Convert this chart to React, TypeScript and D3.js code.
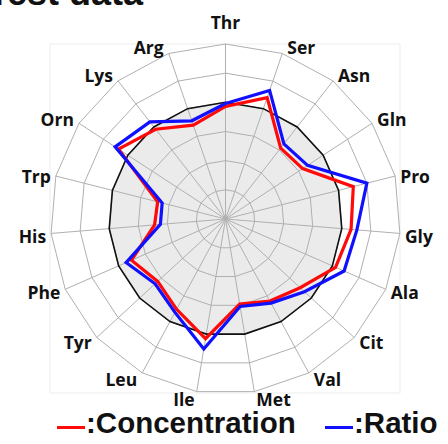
import React from "react";
import * as d3 from "d3";

const categories = ["Thr", "Ser", "Asn", "Gln", "Pro", "Gly", "Ala", "Cit", "Val", "Met", "Ile", "Leu", "Tyr", "Phe", "His", "Trp", "Orn", "Lys", "Arg"];
const concentration = [0.965, 1.1, 0.77, 0.79, 1.13, 1.08, 1.03, 0.87, 0.8, 0.74, 1.04, 0.88, 0.79, 0.88, 0.61, 0.6, 1.095, 0.975, 0.85];
const ratio = [0.99, 1.165, 0.815, 0.84, 1.25, 1.13, 1.11, 0.92, 0.82, 0.76, 1.13, 0.91, 0.82, 0.93, 0.56, 0.56, 1.13, 1.055, 0.89];
const reference = categories.map(() => 1.0);
const gridTicks = [0.25, 0.5, 0.75, 1.0, 1.25, 1.5];
const legendLabels = [":Concentration", ":Ratio"];
const titleText = "Test data";

const W = 448, H = 444;
const cx = 225.5, cy = 219;
const R = 175;

export default function App() {
  const n = categories.length;
  const r = d3.scaleLinear().domain([0, 1.5]).range([0, R]);
  const angle = (i: number) => (i * 2 * Math.PI) / n;
  const radial = d3
    .lineRadial<number>()
    .angle((_, i) => angle(i))
    .radius((v) => r(v))
    .curve(d3.curveLinearClosed);

  const ringPath = (v: number) => radial(categories.map(() => v)) as string;

  return (
    <svg width={W} height={H} style={{ position: "absolute", left: 0, top: 0, background: "#fff" }}
      fontFamily="'Open Sans', sans-serif">
      <text x={143} y={5} textAnchor="end" fontFamily="'Liberation Sans', Arial, sans-serif" fontWeight="bold" fontSize={36} fill="#111">{titleText}</text>
      <rect x={50} y={44} width={350} height={349} fill="none" stroke="#ededed" strokeWidth={1} />
      <g transform={`translate(${cx},${cy})`}>
        <path d={radial(reference) as string} fill="#ebebeb" stroke="none" />
        {gridTicks.map((t) => (
          <path key={t} d={ringPath(t)} fill="none" stroke="#b0b0b0" strokeWidth={1} />
        ))}
        {categories.map((c, i) => {
          const a = angle(i);
          return (
            <line key={c} x1={0} y1={0} x2={R * Math.sin(a)} y2={-R * Math.cos(a)} stroke="#b0b0b0" strokeWidth={1} />
          );
        })}
        <path d={radial(reference) as string} fill="none" stroke="#111" strokeWidth={1.6} />
        <path d={radial(concentration) as string} fill="none" stroke="#ff0a0a" strokeWidth={3.2} strokeLinejoin="miter" />
        <path d={radial(ratio) as string} fill="none" stroke="#1010ff" strokeWidth={3.2} strokeLinejoin="miter" />
        {categories.map((c, i) => {
          const a = angle(i);
          const s = Math.sin(a), co = Math.cos(a);
          const ex = R * s, ey = -R * co;
          let anchor: "start" | "middle" | "end" = "middle";
          let x = ex, y = ey;
          if (Math.abs(s) < 0.05) {
            y = ey - 22;
          } else {
            anchor = s > 0 ? "start" : "end";
            x = ex + (Math.abs(s) < 0.3 ? 2 : 5) * Math.sign(s);
            y = ey - 7 * co + (Math.abs(co) < 0.3 ? 2 : 0);
          }
          return (
            <text key={c} x={x} y={y} textAnchor={anchor} dominantBaseline="central" fontSize={17.5} fontWeight="bold" fill="#111">
              {c}
            </text>
          );
        })}
      </g>
      <g>
        <line x1={57} x2={85} y1={427.5} y2={427.5} stroke="#ff0a0a" strokeWidth={3} />
        <text x={86} y={433} fontFamily="'Liberation Sans', Arial, sans-serif" fontWeight="bold" fontSize={29.5} fill="#111">{legendLabels[0]}</text>
        <line x1={325} x2={353} y1={427.5} y2={427.5} stroke="#1010ff" strokeWidth={3} />
        <text x={354} y={433} fontFamily="'Liberation Sans', Arial, sans-serif" fontWeight="bold" fontSize={29.5} fill="#111">{legendLabels[1]}</text>
      </g>
    </svg>
  );
}
